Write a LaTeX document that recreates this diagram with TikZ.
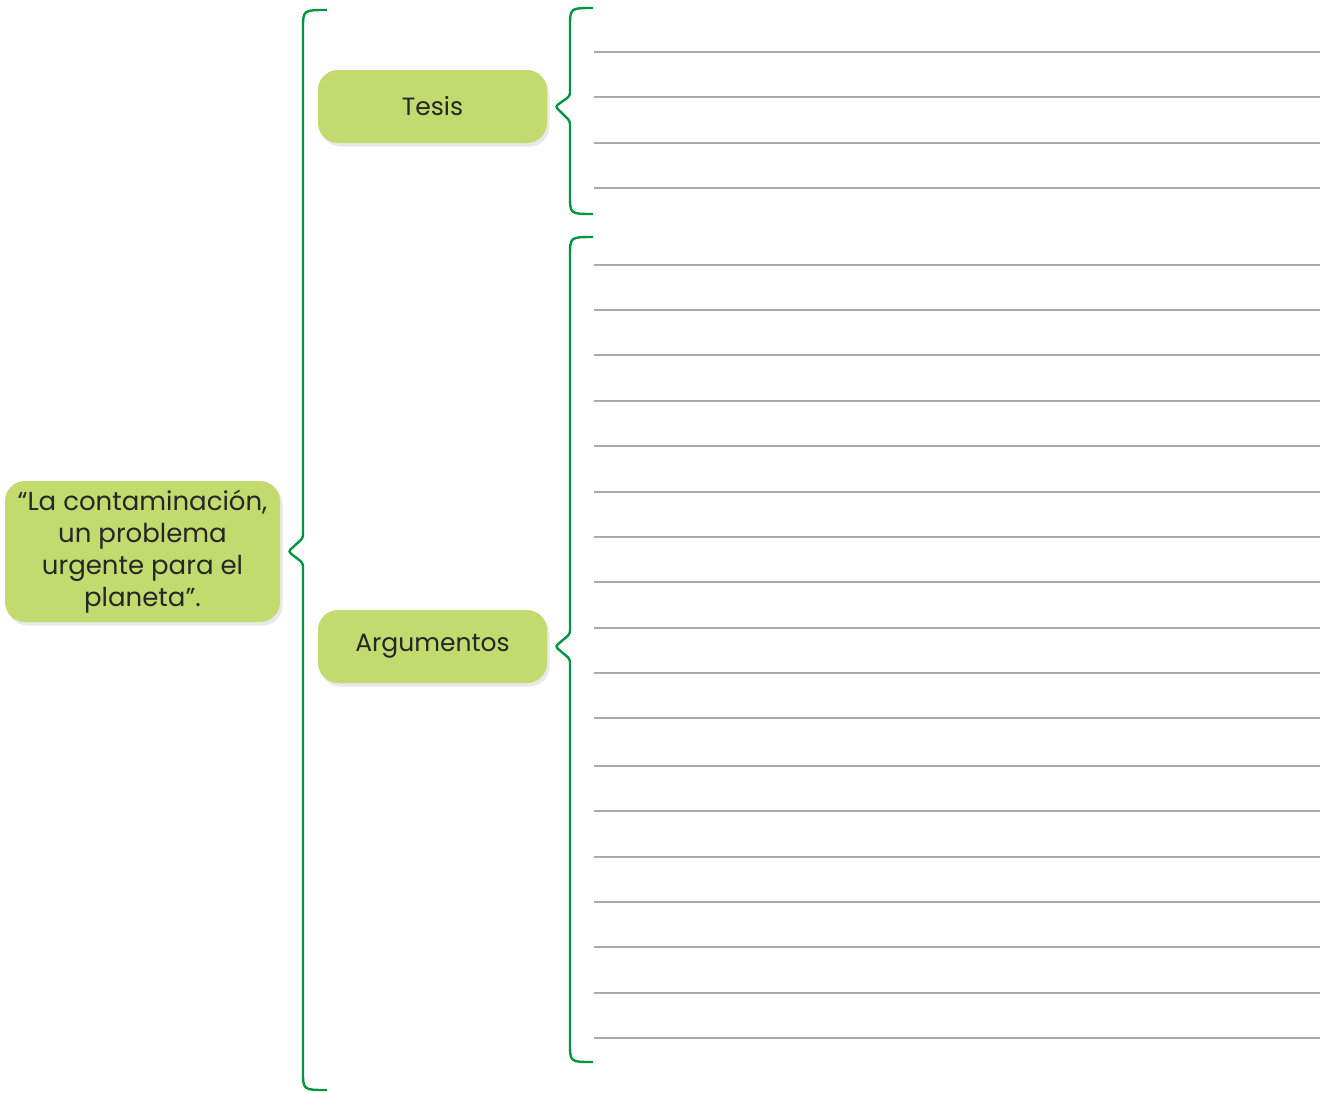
\documentclass[tikz,border=0pt]{standalone}
\usepackage{fontspec}
\setmainfont{Poppins}
\usetikzlibrary{shadows}
\definecolor{boxgreen}{RGB}{194,218,110}
\definecolor{bracegreen}{RGB}{0,150,64}
\definecolor{linegray}{RGB}{170,170,170}
\tikzset{
    RB1/.style ={rectangle, rounded corners=20pt, fill=boxgreen, draw=none, align=center,
    drop shadow={shadow xshift=2.5pt, shadow yshift=-3.5pt, opacity=0.18},
    font=\fontsize{25}{32}\selectfont, text=black!85},
    BR/.style ={draw=bracegreen, line width=2.4pt, rounded corners=3pt},
    LN/.style ={draw=linegray, line width=2.4pt}
}
\begin{document}
\begin{tikzpicture}[x=1pt,y=-1pt]
        \useasboundingbox (0,0) rectangle (1329,1092);
        \node[RB1, minimum width=275pt, minimum height=141pt, inner sep=0pt,
            font=\fontsize{26}{32}\selectfont] (quote) at (142.5,551.5)
            {“La contaminación,\\ un problema\\ urgente para el\\ planeta”.};
        \node[RB1, minimum width=229pt, minimum height=73pt] (tesis) at (432.5,106.5) {Tesis};
        \node[RB1, minimum width=229pt, minimum height=73pt] (args) at (432.5,646.5) {Argumentos};
        % big brace
        \draw[BR] (327,10) .. controls (303,10) .. (303,32) -- (303,538)
            -- ([xshift=8pt]quote.east) -- (303,563) -- (303,1068) .. controls (303,1090) .. (327,1090);
        % brace of Tesis
        \draw[BR] (593,8) .. controls (570,8) .. (570,30) -- (570,96)
            -- ([xshift=8pt]tesis.east) -- (570,121) -- (570,192) .. controls (570,214) .. (593,214);
        % brace of Argumentos
        \draw[BR] (593,237) .. controls (570,237) .. (570,259) -- (570,634)
            -- ([xshift=8pt]args.east) -- (570,659) -- (570,1040) .. controls (570,1062) .. (593,1062);
        % lines of Tesis
        \draw[LN] (594,52)--(1320,52);
        \draw[LN] (594,97)--(1320,97);
        \draw[LN] (594,143)--(1320,143);
        \draw[LN] (594,188)--(1320,188);
        % lines of Argumentos
        \draw[LN] (594,265)--(1320,265);
        \draw[LN] (594,310)--(1320,310);
        \draw[LN] (594,355)--(1320,355);
        \draw[LN] (594,401)--(1320,401);
        \draw[LN] (594,446)--(1320,446);
        \draw[LN] (594,492)--(1320,492);
        \draw[LN] (594,537)--(1320,537);
        \draw[LN] (594,582)--(1320,582);
        \draw[LN] (594,628)--(1320,628);
        \draw[LN] (594,673)--(1320,673);
        \draw[LN] (594,718)--(1320,718);
        \draw[LN] (594,766)--(1320,766);
        \draw[LN] (594,811)--(1320,811);
        \draw[LN] (594,857)--(1320,857);
        \draw[LN] (594,902)--(1320,902);
        \draw[LN] (594,947)--(1320,947);
        \draw[LN] (594,993)--(1320,993);
        \draw[LN] (594,1038)--(1320,1038);
    \end{tikzpicture}
\end{document}
